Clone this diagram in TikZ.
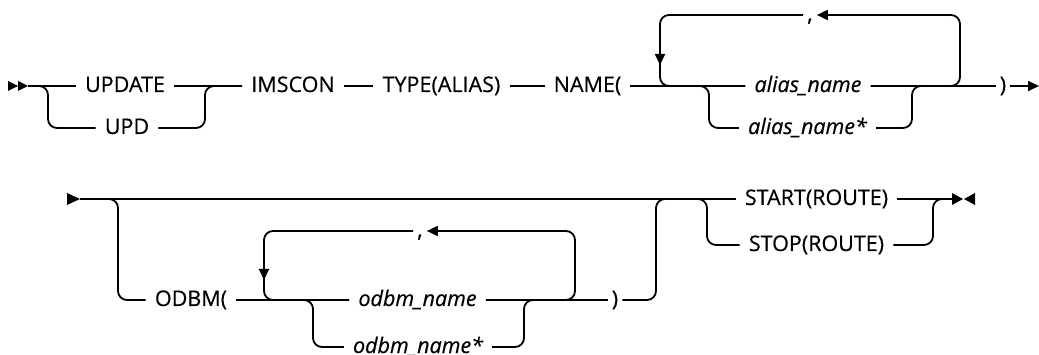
\documentclass[tikz,border=0pt]{standalone}
\usepackage{fontspec}
\setsansfont{Open Sans}[FakeBold=0.45]
\usetikzlibrary{arrows.meta,calc,positioning}

\begin{document}
\begin{tikzpicture}[
    x=1pt, y=-1pt,
    kw/.style={
        inner xsep=9pt,
        inner ysep=0pt,
        text height=15pt,
        text depth=3pt,
        font=\sffamily\fontsize{21.5}{24}\selectfont
      },
    var/.style={kw, font=\sffamily\itshape\fontsize{21.5}{24}\selectfont},
    sep/.style={kw, inner xsep=4pt},
    rail/.style={line width=1.8pt, rounded corners=9pt},
    tip/.style={-{Triangle[length=11pt,width=10pt]}}
    ]
    \useasboundingbox (0,0) rectangle (1039,355);

    % first line
    \fill (8,81) -- (18,86) -- (8,91) -- cycle;
    \fill (18,81) -- (28,86) -- (18,91) -- cycle;
    \coordinate (begA) at (28,86);
    \node[kw] (update) at (125,86) {UPDATE};
    \node[kw] (upd) at (127,128) {UPD};
    \node[kw] (imscon) at (293,86) {IMSCON};
    \node[kw] (type) at (441.5,86) {TYPE(ALIAS)};
    \node[kw] (name) at (587.5,86) {NAME(};
    \node[var] (alias) at (808,86) {alias\_name};
    \node[var] (aliasstar) at (807.5,128) {alias\_name*};
    \node[sep] (commaA) at (810,15) {,};
    \node[sep] (closeA) at (1003,86) {)};
    \coordinate (endA) at (1039,86);

    \coordinate (splitA) at (48,86);
    \coordinate (joinA) at (205,86);
    \coordinate (loopAl) at (660,86);
    \coordinate (splitB) at (709,86);
    \coordinate (joinB) at (912,86);
    \coordinate (loopAr) at (960,86);

    \draw[rail] (begA) -- (update);
    \draw[rail] (begA) -- (splitA) |- (upd.west);
    \draw[rail] (update) -- (imscon);
    \draw[rail] (upd.east) -| (joinA) -- (imscon.west);
    \draw[rail] (imscon) -- (type);
    \draw[rail] (type) -- (name);
    \draw[rail] (name) -- (alias);
    \draw[rail] (name.east) -- (splitB) |- (aliasstar.west);
    \draw[rail] (aliasstar.east) -| (joinB) -- (closeA.west);
    \draw[rail] (alias) -- (closeA);
    \draw[rail,tip] (alias.east) -| (loopAr |- commaA) -- (commaA.east);
    \draw[rail,tip] (commaA.west) -| ($(loopAl)+(0,-21)$);
    \draw[rail] ($(loopAl)+(0,-25)$) -- (loopAl) -- (alias.west);
    \draw[rail,tip] (closeA) -- (endA);

    % second line
    \fill (67,193) -- (80,199) -- (67,205) -- cycle;
    \coordinate (begB) at (80,199);
    \node[kw] (odbm) at (191,300) {ODBM(};
    \node[sep] (commaB) at (420,231) {,};
    \node[var] (odbmname) at (417.5,300) {odbm\_name};
    \node[var] (odbmstar) at (418,347) {odbm\_name*};
    \node[sep] (closeB) at (615,300) {)};
    \node[kw] (start) at (816.5,199) {START(ROUTE)};
    \node[kw] (stop) at (816.5,245) {STOP(ROUTE)};
    \coordinate (endB) at (952,199);
    \fill (952,193) -- (963,199) -- (952,205) -- cycle;
    \fill (975,193) -- (964,199) -- (975,205) -- cycle;

    \coordinate (splitC) at (118,199);
    \coordinate (loopBl) at (264,300);
    \coordinate (splitD) at (313,300);
    \coordinate (joinD) at (524,300);
    \coordinate (loopBr) at (575,300);
    \coordinate (joinC) at (656,199);
    \coordinate (splitE) at (707,199);
    \coordinate (joinE) at (933,199);

    \draw[rail] (begB) -- (start);
    \draw[rail] (begB) -- (splitC) |- (odbm.west);
    \draw[rail] (odbm) -- (odbmname);
    \draw[rail] (odbm.east) -- (splitD) |- (odbmstar.west);
    \draw[rail] (odbmstar.east) -| (joinD) -- (closeB.west);
    \draw[rail] (odbmname) -- (closeB);
    \draw[rail] (closeB.east) -| (joinC) -- (start.west);
    \draw[rail,tip] (odbmname.east) -| (loopBr |- commaB) -- (commaB.east);
    \draw[rail,tip] (commaB.west) -| ($(loopBl)+(0,-20)$);
    \draw[rail] ($(loopBl)+(0,-24)$) -- (loopBl) -- (odbmname.west);
    \draw[rail] (begB) -- (splitE) |- (stop.west);
    \draw[rail] (stop.east) -| (joinE) -- (endB);
    \draw[rail] (start) -- (endB);

  \end{tikzpicture}
\end{document}
